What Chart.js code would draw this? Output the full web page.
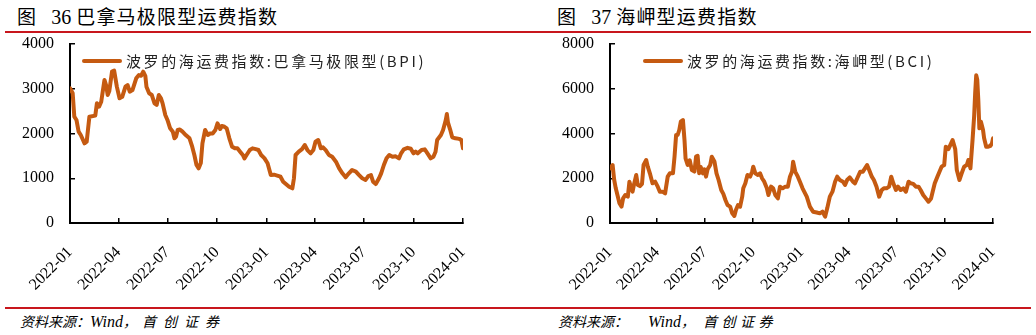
<!DOCTYPE html>
<html>
<head>
<meta charset="utf-8">
<script src="https://cdn.jsdelivr.net/npm/chart.js@4.4.0/dist/chart.umd.min.js"></script>
<style>
  body { margin: 0; width: 1036px; height: 335px; background: #fff; position: relative; overflow: hidden; }
  .title { position: absolute; top: 3px; font-family: "Noto Sans CJK SC", sans-serif; font-size: 19px; line-height: 26px; color: #000; letter-spacing: 1.2px; white-space: nowrap; }
  .title .num { font-family: "Liberation Serif", serif; font-size: 20px; letter-spacing: 0; margin: 0 5px 0 14px; }
  .rule { position: absolute; height: 2px; background: #c8161d; }
  .src { position: absolute; top: 311px; font-family: "Noto Sans CJK SC", sans-serif; font-style: italic; font-size: 14px; line-height: 20px; color: #000; white-space: nowrap; }
  .src .en { font-family: "Liberation Serif", serif; font-size: 16px; }
  canvas { position: absolute; top: 34px; }
</style>
</head>
<body>
<div class="title" style="left:17px">图<span class="num">36</span>巴拿马极限型运费指数</div>
<div class="title" style="left:557px">图<span class="num">37</span>海岬型运费指数</div>
<div class="rule" style="left:5px; width:515px; top:31px"></div>
<div class="rule" style="left:520px; width:511px; top:31px"></div>

<canvas id="bpiChart" width="515" height="266" style="left:0"></canvas>
<canvas id="bciChart" width="516" height="266" style="left:520px"></canvas>

<div class="rule" style="left:5px; width:515px; top:307px"></div>
<div class="rule" style="left:520px; width:511px; top:307px"></div>
<div class="src" style="left:20px">资料来源：<span class="en">Wind</span>，<span style="margin-left:5px; letter-spacing:7px">首创证券</span></div>
<div class="src" style="left:558px">资料来源：<span class="en" style="margin-left:20px">Wind</span>，<span style="margin-left:8px; letter-spacing:4.5px">首创证券</span></div>

<script>
// x 轴：距 2022-01-01 的天数，季度刻度
const quarterDays = [0, 90, 181, 273, 365, 455, 546, 638, 730];
const quarterLabels = ["2022-01", "2022-04", "2022-07", "2022-10", "2023-01", "2023-04", "2023-07", "2023-10", "2024-01"];

// 巴拿马极限型 BPI
const bpiLabel = "波罗的海运费指数:巴拿马极限型(BPI)";
const bpiDays = [0,5,8,12,16,20,27,31,36,47,50,54,58,64,67,70,73,78,82,87,
  92,97,103,107,111,116,123,128,132,136,140,142,147,152,157,161,165,169,172,177,
  181,186,191,194,197,200,204,209,215,222,227,231,235,239,243,246,251,256,260,265,
  270,274,279,282,287,291,296,301,307,311,316,321,324,328,334,339,345,350,355,361,
  367,373,379,385,391,396,401,407,413,416,419,425,431,436,441,447,452,456,461,466,
  470,475,481,487,494,500,506,512,518,524,531,537,543,549,554,559,563,568,574,578,
  583,588,593,599,605,611,615,620,627,633,638,642,646,653,659,664,670,675,679,682,
  689,693,698,700,702,706,710,716,723,727,730];
const bpiValues = [3010,2898,2376,2302,2041,1966,1781,1817,2376,2400,2674,2600,2711,3196,3084,2860,2950,3382,3404,3047,
  2786,2820,3047,3084,2935,2970,3233,3307,3290,3382,3280,3047,2898,2860,2674,2640,2860,2786,2674,2413,
  2302,2116,2040,1892,1930,2078,2090,2041,1966,1892,1705,1520,1296,1222,1340,1780,2078,1966,2000,2000,
  2078,2227,2100,2168,2150,2116,1892,1705,1668,1668,1594,1520,1445,1520,1631,1668,1650,1631,1520,1450,
  1334,1072,1080,1060,1035,923,871,811,775,1000,1520,1594,1650,1743,1630,1557,1630,1817,1855,1669,
  1690,1630,1520,1480,1370,1222,1110,1021,1110,1184,1150,1072,998,961,1050,1072,923,871,1000,1110,
  1296,1445,1520,1480,1490,1445,1557,1646,1680,1660,1557,1594,1557,1630,1646,1557,1445,1480,1594,1855,
  1966,2078,2302,2436,2250,2093,1915,1892,1880,1855,1670];

// 海岬型 BCI
const bciLabel = "波罗的海运费指数:海岬型(BCI)";
const bciDays = [0,5,8,11,15,18,22,25,29,34,37,40,43,46,50,53,57,61,64,69,
  72,76,81,86,91,95,100,105,110,114,120,123,126,129,132,135,139,142,144,148,
  152,156,161,164,167,170,173,177,180,183,186,191,194,199,203,207,212,216,220,224,
  229,233,237,240,244,248,252,254,258,262,267,271,273,277,282,286,290,294,299,302,
  307,311,315,320,324,329,334,339,343,347,349,353,358,362,367,375,381,387,394,400,
  405,410,414,419,424,429,433,438,444,448,452,457,463,467,471,477,482,486,490,494,
  499,503,508,513,518,522,527,532,536,540,545,549,554,559,564,569,573,578,583,588,
  592,597,602,607,612,615,619,624,628,632,637,640,645,649,653,658,661,666,670,675,
  680,683,687,691,694,696,698,700,702,704,707,711,713,717,721,725,728,730];
const bciValues = [2443,2592,1922,1550,1177,880,730,1100,1251,1177,1847,1600,1400,1750,2145,1698,1650,1750,2592,2816,
  2520,2220,1773,1850,1624,1400,1400,1325,2071,2220,2220,2965,3933,3933,4156,4529,4603,3709,2890,2592,
  2800,2369,2300,2965,3000,2220,2500,2220,2400,2071,2400,2592,2965,2750,2220,1922,1475,1300,1028,804,
  730,432,313,580,804,730,1177,1550,1773,2145,2071,2300,2518,2220,2145,2220,1990,1847,1550,1251,
  1624,1550,1251,1102,1624,1550,1624,1624,2071,2300,2741,2300,2071,1847,1550,1177,730,506,470,432,
  506,283,655,1177,1400,1847,2071,1922,1847,1698,1922,2041,1847,1773,1990,2295,2295,2443,2592,2369,
  2071,1922,1624,1177,1475,1550,1550,1624,2071,1773,1475,1624,1475,1550,1400,1847,1773,1750,1624,1624,
  1475,1251,1100,953,1100,1400,1773,2071,2295,2518,2592,3411,3300,3500,3709,3300,2369,1922,2200,2518,
  2592,2816,2443,3709,4752,5797,6600,6400,5497,4231,4529,4156,3800,3411,3411,3450,3560,3784];

const lineColor = "#C55A11";
const serif = '"Liberation Serif", "Times New Roman", serif';

// 图例画在绘图区内左上角
const insideLegend = {
  id: "insideLegend",
  afterDatasetsDraw(chart, args, opts) {
    const { ctx, chartArea } = chart;
    const ds = chart.data.datasets[0];
    const x = chartArea.left + opts.dx;
    const y = chartArea.top + 17;
    ctx.save();
    ctx.strokeStyle = ds.borderColor;
    ctx.lineWidth = 4;
    ctx.lineCap = "round";
    ctx.beginPath();
    ctx.moveTo(x + 2, y);
    ctx.lineTo(x + 38, y);
    ctx.stroke();
    ctx.font = '15px "Noto Sans CJK SC"';
    ctx.letterSpacing = "2.6px";
    ctx.fillStyle = "#222";
    ctx.textBaseline = "middle";
    ctx.fillText(ds.label, x + 44, y);
    ctx.restore();
  }
};

function drawIndexChart(id, label, days, values, yMax, yStep, yAxisWidth, padRight, legendDx) {
  const points = days.map((d, i) => ({ x: d, y: values[i] }));
  new Chart(document.getElementById(id), {
    type: "line",
    data: {
      datasets: [{
        label: label,
        data: points,
        borderColor: lineColor,
        borderWidth: 4,
        borderJoinStyle: "round",
        borderCapStyle: "round",
        pointRadius: 0,
        fill: false,
        tension: 0
      }]
    },
    options: {
      responsive: false,
      animation: false,
      devicePixelRatio: 1,
      layout: { padding: { top: 10, right: padRight, bottom: 0, left: 0 } },
      plugins: {
        legend: { display: false },
        tooltip: { enabled: false },
        insideLegend: { dx: legendDx }
      },
      scales: {
        x: {
          type: "linear",
          min: 0,
          max: 730,
          afterBuildTicks: s => { s.ticks = quarterDays.map(v => ({ value: v })); },
          afterFit: s => { s.height = 77; s.paddingLeft = 0; s.paddingRight = 0; },
          ticks: {
            autoSkip: false,
            minRotation: 45,
            maxRotation: 45,
            padding: 25,
            color: "#000",
            font: { family: serif, size: 16 },
            callback: (v, i) => quarterLabels[i]
          },
          grid: { drawOnChartArea: false, tickLength: -5, color: "#000", lineWidth: 1.5 },
          border: { color: "#000", width: 2 }
        },
        y: {
          min: 0,
          max: yMax,
          afterFit: s => { s.width = yAxisWidth; s.paddingTop = 0; s.paddingBottom = 0; },
          ticks: {
            stepSize: yStep,
            padding: 21,
            color: "#000",
            font: { family: serif, size: 16 },
            callback: v => String(v)
          },
          grid: { drawOnChartArea: false, tickLength: -5, color: "#000", lineWidth: 1.5 },
          border: { color: "#000", width: 2 }
        }
      }
    },
    plugins: [insideLegend]
  });
}

drawIndexChart("bpiChart", bpiLabel, bpiDays, bpiValues, 4000, 1000, 70, 52, 12);
drawIndexChart("bciChart", bciLabel, bciDays, bciValues, 8000, 2000, 90, 43, 33);
</script>
</body>
</html>
